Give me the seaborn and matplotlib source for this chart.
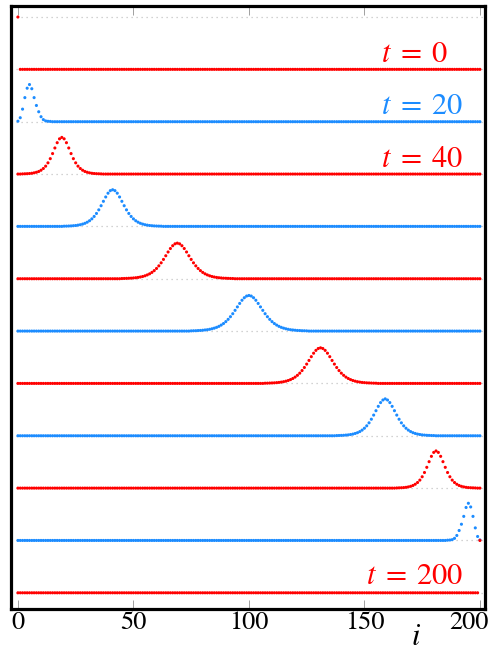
import numpy as np
import pandas as pd
import matplotlib
matplotlib.use("Agg")
import matplotlib.pyplot as plt
import seaborn as sns
from matplotlib.transforms import ScaledTranslation

# ---- data: lattice displacement profiles at successive times ----
times = [0, 20, 40, 60, 80, 100, 120, 140, 160, 180, 200]
n_sites = 201
x_ticks = [0, 50, 100, 150, 200]

# first lattice site covered by each pulse sample list
pulse_start = [0, 0, 2, 20, 45, 75, 107, 138, 164, 186, 200]

pulse_t0 = [1.0]
pulse_t20 = [0.01, 0.076, 0.24, 0.46, 0.64, 0.71, 0.63, 0.46, 0.31, 0.19,
             0.095, 0.04, 0.015, 0.008, 0.005]
pulse_t40 = [0.003, 0.005, 0.007, 0.010, 0.015, 0.023, 0.034, 0.049, 0.073,
             0.106, 0.151, 0.214, 0.294, 0.391, 0.498, 0.599, 0.673, 0.700,
             0.673, 0.599, 0.498, 0.391, 0.294, 0.214, 0.151, 0.106, 0.073,
             0.049, 0.034, 0.023, 0.015, 0.010, 0.007, 0.005, 0.003]
pulse_t60 = [0.004, 0.005, 0.007, 0.009, 0.013, 0.017, 0.024, 0.032, 0.044,
             0.059, 0.080, 0.108, 0.144, 0.190, 0.247, 0.316, 0.395, 0.479,
             0.562, 0.634, 0.683, 0.700, 0.683, 0.634, 0.562, 0.479, 0.395,
             0.316, 0.247, 0.190, 0.144, 0.108, 0.080, 0.059, 0.044, 0.032,
             0.024, 0.017, 0.013, 0.009, 0.007, 0.005, 0.004]
pulse_t80 = [0.004, 0.005, 0.007, 0.009, 0.011, 0.015, 0.019, 0.025, 0.033,
             0.043, 0.056, 0.073, 0.094, 0.121, 0.155, 0.196, 0.246, 0.304,
             0.369, 0.439, 0.511, 0.577, 0.631, 0.667, 0.680, 0.667, 0.631,
             0.577, 0.511, 0.439, 0.369, 0.304, 0.246, 0.196, 0.155, 0.121,
             0.094, 0.073, 0.056, 0.043, 0.033, 0.025, 0.019, 0.015, 0.011,
             0.009, 0.007, 0.005, 0.004]
pulse_t100 = [0.004, 0.006, 0.007, 0.010, 0.012, 0.016, 0.021, 0.026, 0.034,
              0.044, 0.056, 0.071, 0.090, 0.115, 0.144, 0.181, 0.224, 0.275,
              0.332, 0.396, 0.462, 0.528, 0.589, 0.637, 0.669, 0.680, 0.669,
              0.637, 0.589, 0.528, 0.462, 0.396, 0.332, 0.275, 0.224, 0.181,
              0.144, 0.115, 0.090, 0.071, 0.056, 0.044, 0.034, 0.026, 0.021,
              0.016, 0.012, 0.010, 0.007, 0.006, 0.004]
pulse_t120 = [0.004, 0.005, 0.007, 0.009, 0.011, 0.015, 0.019, 0.025, 0.033,
              0.043, 0.056, 0.073, 0.094, 0.121, 0.155, 0.196, 0.246, 0.304,
              0.369, 0.439, 0.511, 0.577, 0.631, 0.667, 0.680, 0.667, 0.631,
              0.577, 0.511, 0.439, 0.369, 0.304, 0.246, 0.196, 0.155, 0.121,
              0.094, 0.073, 0.056, 0.043, 0.033, 0.025, 0.019, 0.015, 0.011,
              0.009, 0.007, 0.005, 0.004]
pulse_t140 = [0.004, 0.005, 0.007, 0.009, 0.013, 0.017, 0.024, 0.032, 0.044,
              0.059, 0.080, 0.108, 0.144, 0.190, 0.247, 0.316, 0.395, 0.479,
              0.562, 0.634, 0.683, 0.705, 0.683, 0.634, 0.562, 0.479, 0.395,
              0.316, 0.247, 0.190, 0.144, 0.108, 0.080, 0.059, 0.044, 0.032,
              0.024, 0.017, 0.013, 0.009, 0.007, 0.005, 0.004]
pulse_t160 = [0.003, 0.005, 0.007, 0.010, 0.015, 0.023, 0.034, 0.050, 0.074,
              0.107, 0.153, 0.217, 0.298, 0.397, 0.505, 0.607, 0.682, 0.710,
              0.682, 0.607, 0.505, 0.397, 0.298, 0.217, 0.153, 0.107, 0.074,
              0.050, 0.034, 0.023, 0.015, 0.010, 0.007, 0.005, 0.003]
pulse_t180 = [0.005, 0.008, 0.015, 0.04, 0.095, 0.19, 0.31, 0.46, 0.63, 0.71,
              0.64, 0.46, 0.24, 0.076, 0.01]
pulse_t200 = [1.0]

pulses = [pulse_t0, pulse_t20, pulse_t40, pulse_t60, pulse_t80, pulse_t100,
          pulse_t120, pulse_t140, pulse_t160, pulse_t180, pulse_t200]

# ---- long-form table: each profile shifted down by one unit per frame ----
rows = []
sites = np.arange(n_sites)
for k, (t, start, vals) in enumerate(zip(times, pulse_start, pulses)):
    amp = np.zeros(n_sites)
    amp[start:start + len(vals)] = vals
    rows.append(pd.DataFrame({"i": sites, "u": amp - k, "t": t}))
df = pd.concat(rows, ignore_index=True)

red = "#FF0000"
blue = "#1C8CFF"
palette = {t: (red if k % 2 == 0 else blue) for k, t in enumerate(times)}

# ---- figure ----
sns.set_theme(style="white")
plt.rcParams["mathtext.fontset"] = "stix"
plt.rcParams["font.family"] = ["STIXGeneral", "DejaVu Serif"]

fig = plt.figure(figsize=(4.93, 6.54), dpi=100)
ax = fig.add_axes([11 / 493, 1 - 608.5 / 654, 474 / 493, 603 / 654])

sns.scatterplot(data=df, x="i", y="u", hue="t", palette=palette, s=5,
                linewidth=0, legend=False, ax=ax, zorder=3)

ax.set_xlim(-3.0, 202.2)
ax.set_ylim(-10.3, 1.22)

# one dotted reference line per frame level
ax.set_yticks(np.arange(1, -11, -1))
ax.yaxis.grid(True, color="#c4c4c4", linestyle=(0, (1, 3)), linewidth=0.9)
ax.xaxis.grid(False)
ax.tick_params(axis="y", length=0, labelleft=False)

ax.set_xticks(x_ticks)
ax.set_xticklabels([str(v) for v in x_ticks])
ax.tick_params(axis="x", direction="in", length=6.5, width=0.7,
               color="#a0a0a0", top=True, bottom=True, labelsize=19,
               pad=1.5, labelcolor="black")
ax.set_xlabel("")
ax.set_ylabel("")
last = ax.get_xticklabels()[-1]
last.set_transform(last.get_transform()
                   + ScaledTranslation(-11 / 100, 0, fig.dpi_scale_trans))

for side in ["left", "right", "top", "bottom"]:
    ax.spines[side].set_color("black")
    ax.spines[side].set_linewidth(2.3)

# time labels above selected profiles
ax.text(186.0, 0.15, r"$t\;=\;0$", color=red, fontsize=22,
        ha="right", va="baseline")
ax.text(192.8, -1 + 0.14, r"$t\;=\;20$", color=blue, fontsize=22,
        ha="right", va="baseline")
ax.text(192.8, -2 + 0.14, r"$t\;=\;40$", color=red, fontsize=22,
        ha="right", va="baseline")
ax.text(192.8, -10 + 0.17, r"$t\;=\;200$", color=red, fontsize=22,
        ha="right", va="baseline")

fig.text(416 / 493, 1 - 645 / 654, r"$i$", fontsize=22, ha="center",
         va="baseline", color="black")

fig.savefig("out.png", dpi=100)
